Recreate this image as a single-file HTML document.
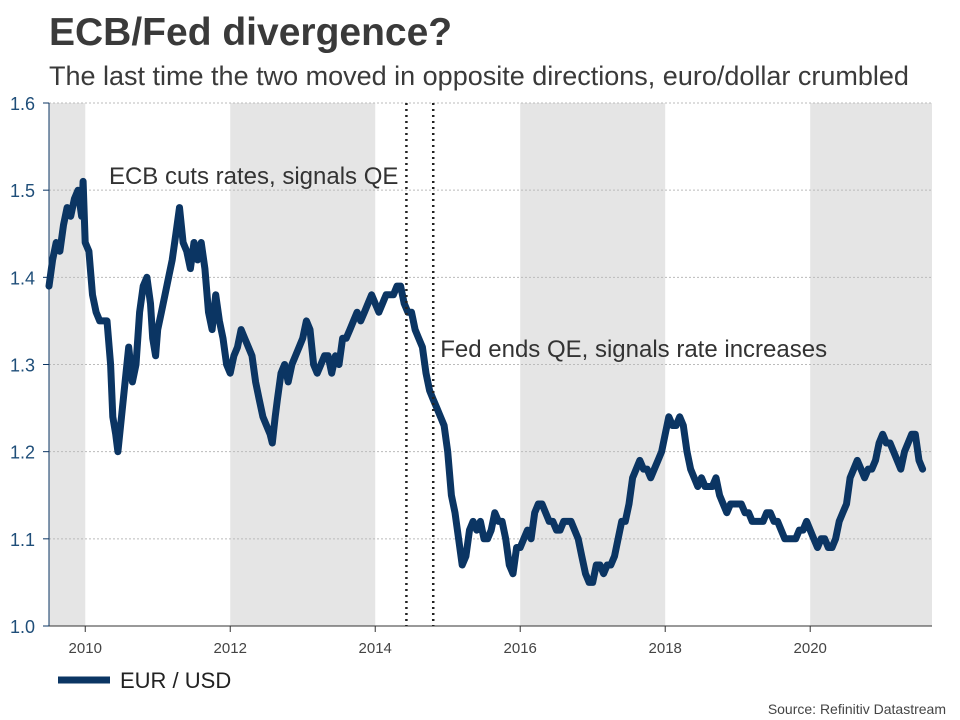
<!DOCTYPE html>
<html><head><meta charset="utf-8"><style>
body{margin:0;background:#fff;font-family:"Liberation Sans",Arial,sans-serif;}
svg{display:block}
</style></head><body>
<svg id="chart" width="960" height="720" xmlns="http://www.w3.org/2000/svg">
<text x="49" y="45" font-size="39" font-weight="bold" fill="#3a3a3a">ECB/Fed divergence?</text>
<text x="49" y="85" font-size="27" fill="#3a3a3a">The last time the two moved in opposite directions, euro/dollar crumbled</text>
<g id="bands"></g><g id="grid"></g><g id="axes"></g><g id="series"></g><g id="ann"></g>
<line x1="58" y1="680" x2="110" y2="680" stroke="#0b3563" stroke-width="7"/>
<text x="120" y="688" font-size="22" fill="#222">EUR / USD</text>
<text x="946" y="714" font-size="14" fill="#444" text-anchor="end">Source: Refinitiv Datastream</text>
</svg>
<script>
const dates=[2009.5,2009.55,2009.6,2009.65,2009.7,2009.75,2009.8,2009.85,2009.9,2009.95,2009.97,2010.0,2010.05,2010.1,2010.15,2010.2,2010.25,2010.3,2010.35,2010.38,2010.42,2010.45,2010.5,2010.55,2010.6,2010.65,2010.7,2010.75,2010.8,2010.85,2010.9,2010.93,2010.97,2011.0,2011.05,2011.1,2011.15,2011.2,2011.25,2011.3,2011.35,2011.4,2011.45,2011.5,2011.55,2011.6,2011.65,2011.7,2011.75,2011.8,2011.85,2011.9,2011.95,2012.0,2012.05,2012.1,2012.15,2012.2,2012.25,2012.3,2012.35,2012.4,2012.45,2012.5,2012.55,2012.58,2012.62,2012.65,2012.7,2012.75,2012.8,2012.85,2012.9,2012.95,2013.0,2013.05,2013.1,2013.15,2013.2,2013.25,2013.3,2013.35,2013.4,2013.45,2013.5,2013.55,2013.6,2013.65,2013.7,2013.75,2013.8,2013.85,2013.9,2013.95,2014.0,2014.05,2014.1,2014.15,2014.2,2014.25,2014.3,2014.35,2014.4,2014.45,2014.5,2014.55,2014.6,2014.65,2014.7,2014.75,2014.8,2014.85,2014.9,2014.95,2015.0,2015.05,2015.1,2015.15,2015.2,2015.25,2015.3,2015.35,2015.4,2015.45,2015.5,2015.55,2015.6,2015.65,2015.7,2015.75,2015.8,2015.85,2015.9,2015.95,2016.0,2016.05,2016.1,2016.15,2016.2,2016.25,2016.3,2016.35,2016.4,2016.45,2016.5,2016.55,2016.6,2016.65,2016.7,2016.75,2016.8,2016.85,2016.9,2016.95,2017.0,2017.05,2017.1,2017.15,2017.2,2017.25,2017.3,2017.35,2017.4,2017.45,2017.5,2017.55,2017.6,2017.65,2017.7,2017.75,2017.8,2017.85,2017.9,2017.95,2018.0,2018.05,2018.1,2018.15,2018.2,2018.25,2018.3,2018.35,2018.4,2018.45,2018.5,2018.55,2018.6,2018.65,2018.7,2018.75,2018.8,2018.85,2018.9,2018.95,2019.0,2019.05,2019.1,2019.15,2019.2,2019.25,2019.3,2019.35,2019.4,2019.45,2019.5,2019.55,2019.6,2019.65,2019.7,2019.75,2019.8,2019.85,2019.9,2019.95,2020.0,2020.05,2020.1,2020.15,2020.2,2020.25,2020.3,2020.35,2020.4,2020.45,2020.5,2020.55,2020.6,2020.65,2020.7,2020.75,2020.8,2020.85,2020.9,2020.95,2021.0,2021.05,2021.1,2021.15,2021.2,2021.25,2021.3,2021.35,2021.4,2021.45,2021.5,2021.55];
const eurusd=[1.39,1.42,1.44,1.43,1.46,1.48,1.47,1.49,1.50,1.47,1.51,1.44,1.43,1.38,1.36,1.35,1.35,1.35,1.30,1.24,1.22,1.20,1.24,1.28,1.32,1.28,1.30,1.36,1.39,1.40,1.37,1.33,1.31,1.34,1.36,1.38,1.40,1.42,1.45,1.48,1.44,1.43,1.41,1.44,1.42,1.44,1.41,1.36,1.34,1.38,1.35,1.33,1.30,1.29,1.31,1.32,1.34,1.33,1.32,1.31,1.28,1.26,1.24,1.23,1.22,1.21,1.24,1.26,1.29,1.30,1.28,1.30,1.31,1.32,1.33,1.35,1.34,1.30,1.29,1.30,1.31,1.31,1.29,1.31,1.30,1.33,1.33,1.34,1.35,1.36,1.35,1.36,1.37,1.38,1.37,1.36,1.37,1.38,1.38,1.38,1.39,1.39,1.37,1.36,1.36,1.34,1.33,1.32,1.29,1.27,1.26,1.25,1.24,1.23,1.20,1.15,1.13,1.10,1.07,1.08,1.11,1.12,1.11,1.12,1.10,1.10,1.11,1.13,1.12,1.12,1.10,1.07,1.06,1.09,1.09,1.10,1.11,1.10,1.13,1.14,1.14,1.13,1.12,1.12,1.11,1.11,1.12,1.12,1.12,1.11,1.10,1.08,1.06,1.05,1.05,1.07,1.07,1.06,1.07,1.07,1.08,1.10,1.12,1.12,1.14,1.17,1.18,1.19,1.18,1.18,1.17,1.18,1.19,1.20,1.22,1.24,1.23,1.23,1.24,1.23,1.20,1.18,1.17,1.16,1.17,1.16,1.16,1.16,1.17,1.15,1.14,1.13,1.14,1.14,1.14,1.14,1.13,1.13,1.12,1.12,1.12,1.12,1.13,1.13,1.12,1.12,1.11,1.10,1.10,1.10,1.10,1.11,1.11,1.12,1.11,1.10,1.09,1.10,1.10,1.09,1.09,1.10,1.12,1.13,1.14,1.17,1.18,1.19,1.18,1.17,1.18,1.18,1.19,1.21,1.22,1.21,1.21,1.20,1.19,1.18,1.20,1.21,1.22,1.22,1.19,1.18];
const yTicks=[1.0,1.1,1.2,1.3,1.4,1.5,1.6];
const xTickYears=[2010,2012,2014,2016,2018,2020];
const shadedBands=[[2009.5,2010],[2012,2014],[2016,2018],[2020,2021.7]];
const eventDates=[2014.43,2014.8];
const eventLabels=["ECB cuts rates, signals QE","Fed ends QE, signals rate increases"];
const eventLabelValues=[1.516,1.318];

const X0=49,X1=932,Y0=626,Y1=103,D0=2009.5,D1=2021.68;
const x=d=>X0+(d-D0)/(D1-D0)*(X1-X0);
const y=v=>Y0-(v-1.0)/0.6*(Y0-Y1);
const NS="http://www.w3.org/2000/svg";
function mk(tag,attrs,parent,text){const e=document.createElementNS(NS,tag);for(const k in attrs)e.setAttribute(k,attrs[k]);if(text!==undefined)e.textContent=text;document.getElementById(parent).appendChild(e);return e;}

shadedBands.forEach(b=>{const r=mk('rect',{x:x(b[0]),y:Y1,width:Math.min(x(b[1]),X1)-x(b[0]),height:Y0-Y1,fill:'#e5e5e5'},'bands');

});
yTicks.forEach(v=>{
 if(v>1.0){const g=mk('line',{x1:X0,x2:X1,y1:y(v),y2:y(v),stroke:'#bbb','stroke-dasharray':'2,2','stroke-width':1},'grid');
 
 }
 const t=mk('line',{x1:43,x2:X0,y1:y(v),y2:y(v),stroke:'#0b3563','stroke-width':1},'axes');
 
 
 const l=mk('text',{x:10,y:y(v)+7,'font-size':18,fill:'#1f4e79'},'axes',v.toFixed(1));
 
 
});
const ya=mk('line',{x1:X0,x2:X0,y1:Y1,y2:Y0,stroke:'#0b3563','stroke-width':1},'axes');


const xa=mk('line',{x1:X0,x2:X1,y1:Y0,y2:Y0,stroke:'#333','stroke-width':1},'axes');


xTickYears.forEach(yr=>{
 const t=mk('line',{x1:x(yr),x2:x(yr),y1:Y0,y2:Y0+6,stroke:'#333'},'axes');
 
 
 const l=mk('text',{x:x(yr),y:Y0+27,'font-size':15,fill:'#444','text-anchor':'middle'},'axes',String(yr));
 
 
});
eventDates.forEach((d,i)=>{
 const ln=mk('line',{x1:x(d),x2:x(d),y1:Y1,y2:Y0,stroke:'#222','stroke-width':2.5,'stroke-dasharray':'2,4'},'ann');
 
 
 const tx=i===0?mk('text',{x:x(d)-8,y:y(eventLabelValues[i])+8,'font-size':24,fill:'#333','text-anchor':'end'},'ann',eventLabels[i]):mk('text',{x:x(d)+7,y:y(eventLabelValues[i])+8,'font-size':24,fill:'#333'},'ann',eventLabels[i]);
 
 
});
const p=mk('path',{d:dates.map((d,i)=>(i?'L':'M')+x(d).toFixed(1)+','+y(eurusd[i]).toFixed(1)).join(''),fill:'none',stroke:'#0b3563','stroke-width':7,'stroke-linejoin':'round','stroke-linecap':'round'},'series');


</script>
</body></html>
